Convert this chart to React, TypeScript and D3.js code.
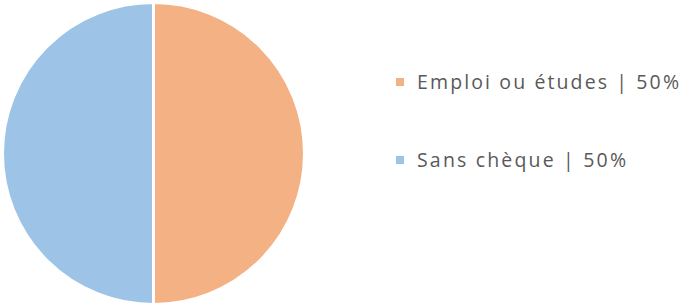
import { useMemo } from "react";
import * as d3 from "d3";

const categories = ["Emploi ou études", "Sans chèque"];
const values = [50, 50];
const colors = ["#F4B183", "#9DC3E6"];
const legendLabels = ["Emploi ou études |  50%", "Sans chèque |  50%"];

const W = 682;
const H = 308;

export default function App() {
  const arcs = useMemo(() => {
    const pie = d3
      .pie<number>()
      .sort(null)
      .value((d) => d);
    return pie(values);
  }, []);

  const arcGen = d3.arc<d3.PieArcDatum<number>>().innerRadius(0).outerRadius(151);

  const legendY = d3.scalePoint<string>().domain(categories).range([82, 160]);

  return (
    <svg
      width={W}
      height={H}
      style={{ position: "absolute", left: 0, top: 0, background: "#fff" }}
    >
      <g transform="translate(153.5,153.5)">
        {arcs.map((a, i) => (
          <path
            key={categories[i]}
            d={arcGen(a) as string}
            fill={colors[i]}
            stroke="#ffffff"
            strokeWidth={3}
            strokeLinejoin="round"
          />
        ))}
      </g>
      <g>
        {categories.map((c, i) => {
          const y = legendY(c) ?? 0;
          return (
            <g key={c}>
              <rect x={396} y={y - 4} width={8} height={8} fill={colors[i]} />
              <text
                x={417}
                y={y}
                dy="0.36em"
                fontFamily="'Open Sans', 'DejaVu Sans', sans-serif"
                fontSize={19.5}
                fill="#595959"
                textLength={i === 0 ? 262 : 209}
                lengthAdjust="spacing"
              >
                {legendLabels[i]}
              </text>
            </g>
          );
        })}
      </g>
    </svg>
  );
}
